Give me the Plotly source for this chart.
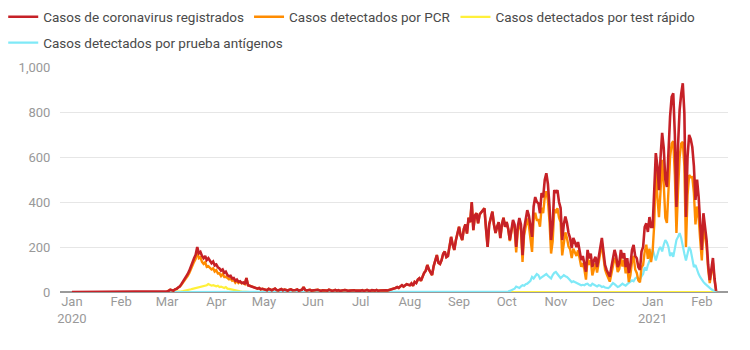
import pandas as pd
import plotly.graph_objects as go

# ---------------- data (daily values) ----------------
start_registrados = "2020-01-01"
start_detectados = "2020-03-01"

registrados = [
    # Jan 2020
    0, 0, 0, 0, 0, 0, 0, 0, 0, 0, 0, 0, 0, 0, 0, 0, 0, 0, 0, 0, 0, 0, 0, 0, 0, 0, 0, 0, 0, 0, 0,
    # Feb 2020
    0, 0, 0, 0, 0, 0, 0, 0, 0, 0, 0, 0, 0, 0, 0, 0, 0, 0, 0, 0, 0, 0, 0, 0, 0, 0, 0, 0, 0,
    # Mar
    3, 5, 10, 8, 6, 12, 14, 20, 25, 35, 45, 55, 70, 80, 95, 115, 135, 150, 165, 200, 172, 178, 160, 150, 160, 142, 150, 138, 128, 135, 118,
    # Apr
    122, 110, 105, 95, 100, 85, 90, 75, 70, 72, 60, 62, 50, 55, 45, 48, 40, 42, 35, 62, 30, 28, 25, 22, 20, 18, 15, 18, 12, 14,
    # May
    12, 10, 8, 14, 10, 8, 12, 15, 9, 7, 10, 13, 8, 11, 9, 6, 10, 12, 8, 7, 9, 11, 6, 8, 10, 22, 9, 7, 8, 10, 6,
    # Jun
    8, 7, 9, 10, 6, 5, 8, 9, 7, 6, 10, 8, 5, 7, 9, 6, 8, 5, 7, 6, 9, 8, 5, 6, 7, 10, 8, 6, 5, 7,
    # Jul
    6, 8, 5, 7, 9, 6, 5, 8, 7, 6, 9, 5, 7, 8, 6, 10, 8, 7, 9, 12, 15, 14, 18, 22, 18, 25, 30, 24, 28, 35, 32,
    # Aug
    30, 38, 28, 45, 40, 55, 61, 50, 72, 85, 95, 120, 100, 85, 75, 115, 140, 164, 130, 125, 142, 170, 180, 155, 160, 200, 245, 210, 187, 230, 265,
    # Sep
    290, 250, 231, 280, 300, 260, 330, 310, 400, 275, 340, 350, 305, 345, 355, 360, 372, 280, 200, 300, 330, 357, 300, 262, 290, 310, 240, 300, 330, 290,
    # Oct
    311, 280, 231, 280, 320, 300, 200, 290, 329, 300, 164, 280, 330, 364, 340, 290, 245, 380, 422, 400, 395, 350, 440, 420, 498, 528, 480, 380, 231, 300, 453,
    # Nov
    440, 453, 400, 373, 231, 300, 335, 307, 262, 240, 195, 240, 222, 200, 222, 180, 142, 160, 130, 90, 187, 150, 170, 111, 140, 156, 111, 160, 200, 240,
    # Dec
    180, 120, 98, 80, 68, 110, 150, 187, 160, 111, 128, 187, 150, 173, 111, 150, 84, 120, 187, 209, 160, 150, 111, 98, 180, 200, 289, 305, 267, 333, 289,
    # Jan 2021
    289, 450, 617, 560, 453, 600, 707, 640, 500, 467, 650, 780, 867, 883, 700, 378, 650, 809, 880, 928, 795, 333, 600, 698, 680, 644, 560, 409, 500, 422, 300,
    # Feb 2021
    187, 350, 300, 231, 120, 53, 100, 151, 60, 5,
]

pcr = [
    # Mar 2020
    3, 5, 10, 8, 6, 12, 14, 20, 23, 32, 41, 50, 64, 72, 85, 103, 121, 134, 147, 180, 150, 154, 134, 125, 132, 112, 115, 106, 100, 105, 91,
    # Apr
    97, 82, 83, 71, 80, 67, 68, 60, 56, 60, 50, 54, 41, 49, 40, 45, 38, 41, 35, 62, 30, 28, 25, 22, 20, 18, 15, 18, 12, 14,
    # May
    12, 10, 8, 14, 10, 8, 12, 15, 9, 7, 10, 13, 8, 11, 9, 6, 10, 12, 8, 7, 9, 11, 6, 8, 10, 22, 9, 7, 8, 10, 6,
    # Jun
    8, 7, 9, 10, 6, 5, 8, 9, 7, 6, 10, 8, 5, 7, 9, 6, 8, 5, 7, 6, 9, 8, 5, 6, 7, 10, 8, 6, 5, 7,
    # Jul
    6, 8, 5, 7, 9, 6, 5, 8, 7, 6, 9, 5, 7, 8, 6, 10, 8, 7, 9, 12, 15, 14, 18, 22, 18, 25, 30, 24, 28, 35, 32,
    # Aug
    30, 38, 28, 45, 40, 55, 61, 50, 72, 85, 95, 120, 100, 85, 75, 115, 140, 164, 130, 125, 142, 170, 180, 155, 160, 200, 245, 210, 187, 230, 265,
    # Sep
    290, 250, 231, 280, 300, 260, 330, 310, 400, 275, 340, 350, 305, 345, 355, 360, 372, 280, 200, 300, 330, 357, 300, 262, 290, 310, 240, 300, 330, 290,
    # Oct
    311, 278, 226, 272, 310, 285, 176, 270, 311, 275, 134, 252, 295, 327, 295, 240, 178, 320, 352, 320, 320, 290, 375, 350, 420, 448, 408, 313, 171, 225, 368,
    # Nov
    351, 373, 330, 311, 163, 225, 265, 240, 202, 190, 151, 192, 177, 160, 185, 145, 112, 128, 100, 55, 150, 120, 142, 74, 108, 128, 86, 130, 172, 218,
    # Dec
    155, 100, 80, 63, 46, 80, 110, 152, 132, 89, 103, 157, 113, 141, 83, 115, 44, 75, 135, 161, 100, 85, 51, 43, 110, 120, 179, 210, 147, 193, 133,
    # Jan 2021
    180, 300, 556, 420, 333, 450, 587, 480, 330, 307, 480, 600, 660, 670, 520, 262, 450, 600, 660, 667, 560, 200, 430, 520, 510, 511, 440, 300, 380, 330, 230,
    # Feb 2021
    140, 290, 250, 202, 100, 40, 85, 130, 55, 4,
]

test_rapido = [
    # Mar 2020
    0, 0, 0, 0, 0, 0, 0, 0, 2, 3, 4, 5, 6, 8, 10, 12, 14, 16, 18, 20, 22, 24, 26, 25, 28, 30, 35, 32, 28, 30, 27,
    # Apr
    25, 28, 22, 24, 20, 18, 22, 15, 14, 12, 10, 8, 9, 6, 5, 3, 2, 1, 0, 0, 0, 0, 0, 0, 0, 0, 0, 0, 0, 0,
    # May
    0, 0, 0, 0, 0, 0, 0, 0, 0, 0, 0, 0, 0, 0, 0, 0, 0, 0, 0, 0, 0, 0, 0, 0, 0, 0, 0, 0, 0, 0, 0,
    # Jun
    0, 0, 0, 0, 0, 0, 0, 0, 0, 0, 0, 0, 0, 0, 0, 0, 0, 0, 0, 0, 0, 0, 0, 0, 0, 0, 0, 0, 0, 0,
    # Jul
    0, 0, 0, 0, 0, 0, 0, 0, 0, 0, 0, 0, 0, 0, 0, 0, 0, 0, 0, 0, 0, 0, 0, 0, 0, 0, 0, 0, 0, 0, 0,
    # Aug
    0, 0, 0, 0, 0, 0, 0, 0, 0, 0, 0, 0, 0, 0, 0, 0, 0, 0, 0, 0, 0, 0, 0, 0, 0, 0, 0, 0, 0, 0, 0,
    # Sep
    0, 0, 0, 0, 0, 0, 0, 0, 0, 0, 0, 0, 0, 0, 0, 0, 0, 0, 0, 0, 0, 0, 0, 0, 0, 0, 0, 0, 0, 0,
    # Oct
    0, 0, 0, 0, 0, 0, 0, 0, 0, 0, 0, 0, 0, 0, 0, 0, 0, 0, 0, 0, 0, 0, 0, 0, 0, 0, 0, 0, 0, 0, 0,
    # Nov
    0, 0, 0, 0, 0, 0, 0, 0, 0, 0, 0, 0, 0, 0, 0, 0, 0, 0, 0, 0, 0, 0, 0, 0, 0, 0, 0, 0, 0, 0,
    # Dec
    0, 0, 0, 0, 0, 0, 0, 0, 0, 0, 0, 0, 0, 0, 0, 0, 0, 0, 0, 0, 0, 0, 0, 0, 0, 0, 0, 0, 0, 0, 0,
    # Jan 2021
    0, 0, 0, 0, 0, 0, 0, 0, 0, 0, 0, 0, 0, 0, 0, 0, 0, 0, 0, 0, 0, 0, 0, 0, 0, 0, 0, 0, 0, 0, 0,
    # Feb 2021
    0, 0, 0, 0, 0, 0, 0, 0, 0, 0,
]

antigenos = [
    # Mar 2020
    0, 0, 0, 0, 0, 0, 0, 0, 0, 0, 0, 0, 0, 0, 0, 0, 0, 0, 0, 0, 0, 0, 0, 0, 0, 0, 0, 0, 0, 0, 0,
    # Apr
    0, 0, 0, 0, 0, 0, 0, 0, 0, 0, 0, 0, 0, 0, 0, 0, 0, 0, 0, 0, 0, 0, 0, 0, 0, 0, 0, 0, 0, 0,
    # May
    0, 0, 0, 0, 0, 0, 0, 0, 0, 0, 0, 0, 0, 0, 0, 0, 0, 0, 0, 0, 0, 0, 0, 0, 0, 0, 0, 0, 0, 0, 0,
    # Jun
    0, 0, 0, 0, 0, 0, 0, 0, 0, 0, 0, 0, 0, 0, 0, 0, 0, 0, 0, 0, 0, 0, 0, 0, 0, 0, 0, 0, 0, 0,
    # Jul
    0, 0, 0, 0, 0, 0, 0, 0, 0, 0, 0, 0, 0, 0, 0, 0, 0, 0, 0, 0, 0, 0, 0, 0, 0, 0, 0, 0, 0, 0, 0,
    # Aug
    0, 0, 0, 0, 0, 0, 0, 0, 0, 0, 0, 0, 0, 0, 0, 0, 0, 0, 0, 0, 0, 0, 0, 0, 0, 0, 0, 0, 0, 0, 0,
    # Sep
    0, 0, 0, 0, 0, 0, 0, 0, 0, 0, 0, 0, 0, 0, 0, 0, 0, 0, 0, 0, 0, 0, 0, 0, 0, 0, 0, 0, 0, 0,
    # Oct
    0, 2, 5, 8, 10, 15, 24, 20, 18, 25, 30, 28, 35, 37, 45, 50, 67, 60, 70, 80, 75, 60, 65, 70, 78, 80, 72, 67, 60, 75, 85,
    # Nov
    89, 80, 70, 62, 68, 75, 70, 67, 60, 50, 44, 48, 45, 40, 37, 35, 30, 32, 30, 35, 37, 30, 28, 37, 32, 28, 25, 30, 28, 22,
    # Dec
    25, 20, 18, 17, 22, 30, 40, 35, 28, 22, 25, 30, 37, 32, 28, 35, 40, 45, 52, 48, 60, 65, 60, 55, 70, 80, 110, 95, 120, 140, 156,
    # Jan 2021
    190, 170, 140, 165, 190, 200, 180, 210, 231, 220, 200, 160, 175, 156, 200, 231, 245, 262, 240, 200, 170, 140, 165, 200, 185, 150, 111, 120, 97, 80, 66,
    # Feb 2021
    52, 45, 37, 30, 22, 15, 12, 8, 3, 0,
]

series_names = [
    "Casos de coronavirus registrados",
    "Casos detectados por PCR",
    "Casos detectados por test rápido",
    "Casos detectados por prueba antígenos",
]
y_ticks = [0, 200, 400, 600, 800, 1000]
x_tick_dates = ["2020-01-01", "2020-02-01", "2020-03-01", "2020-04-01", "2020-05-01",
                "2020-06-01", "2020-07-01", "2020-08-01", "2020-09-01", "2020-10-01",
                "2020-11-01", "2020-12-01", "2021-01-01", "2021-02-01"]
x_tick_labels = ["Jan<br>2020", "Feb", "Mar", "Apr", "May", "Jun", "Jul", "Aug",
                 "Sep", "Oct", "Nov", "Dec", "Jan<br>2021", "Feb"]

# ---------------- figure ----------------
d_reg = pd.date_range(start_registrados, periods=len(registrados), freq="D")
d_pcr = pd.date_range(start_detectados, periods=len(pcr), freq="D")
d_tr = pd.date_range(start_detectados, periods=len(test_rapido), freq="D")
d_ag = pd.date_range(start_detectados, periods=len(antigenos), freq="D")

RED = "#c62127"
ORANGE = "#ff8c00"
YELLOW = "#fff03a"
CYAN = "#7fe9f7"

fig = go.Figure()
# drawing order: yellow, cyan, orange, red (red on top); legend order via legendrank
fig.add_trace(go.Scatter(x=d_tr, y=test_rapido, name=series_names[2], mode="lines",
                         line=dict(color=YELLOW, width=2.2), legendrank=3, legend="legend"))
fig.add_trace(go.Scatter(x=d_ag, y=antigenos, name=series_names[3], mode="lines",
                         line=dict(color=CYAN, width=2.2), legendrank=4, legend="legend2"))
fig.add_trace(go.Scatter(x=d_pcr, y=pcr, name=series_names[1], mode="lines",
                         line=dict(color=ORANGE, width=2.4), legendrank=2, legend="legend"))
fig.add_trace(go.Scatter(x=d_reg, y=registrados, name=series_names[0], mode="lines",
                         line=dict(color=RED, width=2.6), legendrank=1, legend="legend"))

legend_font = dict(family="Roboto, Arial, sans-serif", size=13.5, color="#4a4a4a")
fig.update_layout(
    width=750, height=350,
    margin=dict(l=60, r=22, t=67, b=58, autoexpand=False),
    paper_bgcolor="white", plot_bgcolor="white",
    font=dict(family="Roboto, Arial, sans-serif", size=13, color="#444"),
    showlegend=True,
    legend=dict(orientation="h", x=-0.085, xanchor="left", y=1.222, yanchor="middle",
                font=legend_font, bgcolor="rgba(0,0,0,0)", traceorder="normal"),
    legend2=dict(orientation="h", x=-0.085, xanchor="left", y=1.107, yanchor="middle",
                 font=legend_font, bgcolor="rgba(0,0,0,0)", traceorder="normal"),
    xaxis=dict(
        type="date",
        range=["2019-12-24 12:00", "2021-02-17 12:00"],
        tickvals=x_tick_dates, ticktext=x_tick_labels, tickangle=0,
        showgrid=False, zeroline=False, showline=False,
        ticks="", tickfont=dict(size=13, color="#999"),
    ),
    yaxis=dict(
        range=[0, 1000], tickvals=y_ticks, tickformat=",d",
        showgrid=True, gridcolor="#e6e6e6", gridwidth=1,
        zeroline=True, zerolinecolor="#9a9a9a", zerolinewidth=1.5,
        ticks="outside", ticklen=6, tickcolor="rgba(0,0,0,0)",
        tickfont=dict(size=13, color="#999"),
    ),
)

fig.write_html("out.html")
